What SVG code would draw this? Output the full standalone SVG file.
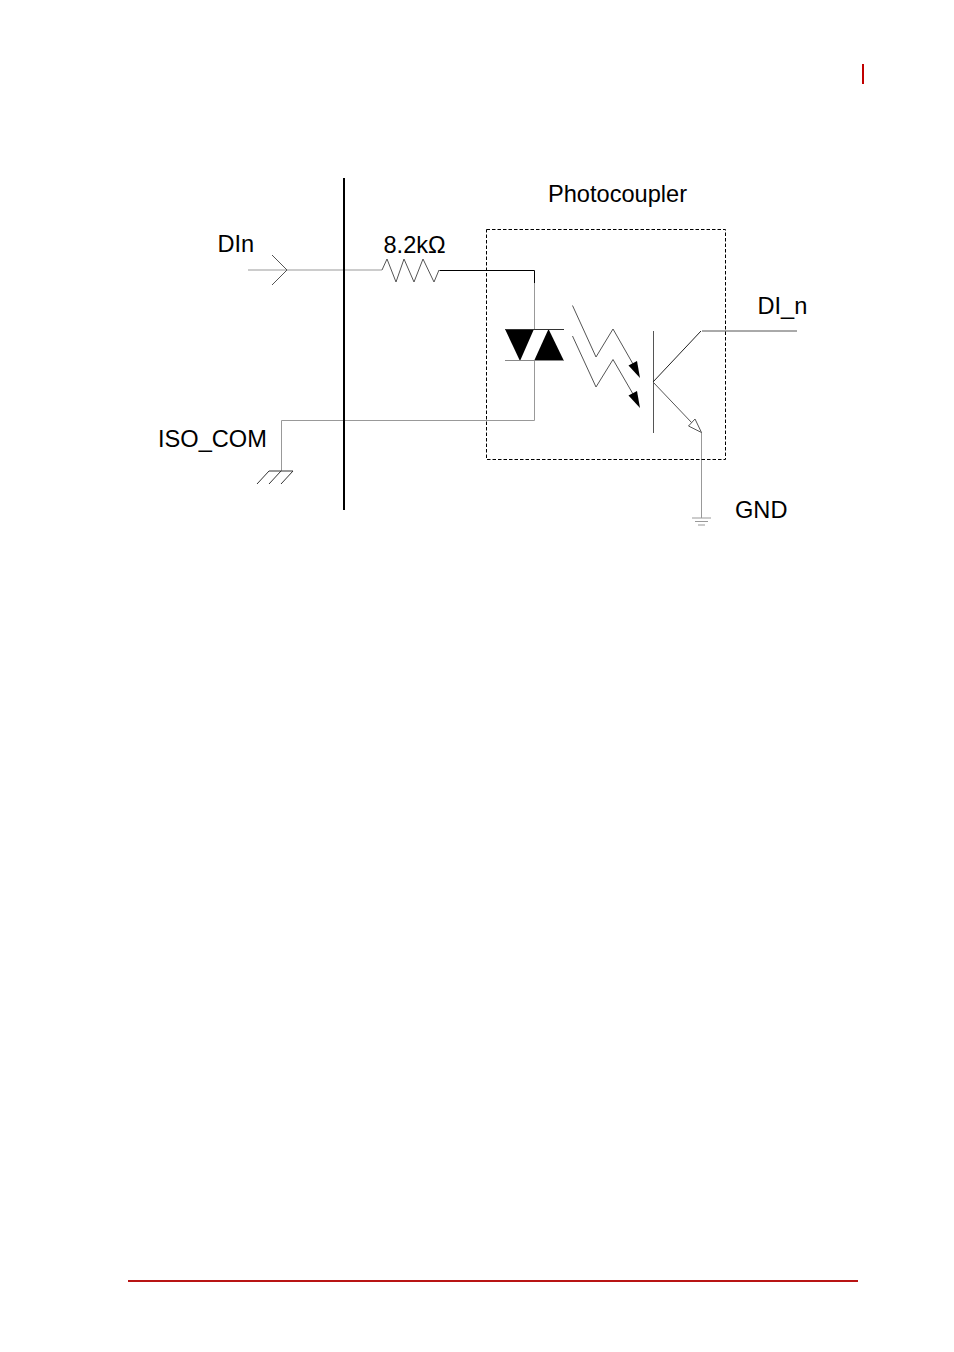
<svg xmlns="http://www.w3.org/2000/svg" width="954" height="1352" viewBox="0 0 954 1352">
<style>
text{font-family:"Liberation Sans",Arial,sans-serif;font-size:23.6px;fill:#000}
.g{fill:none;stroke:#999;stroke-width:1}
.k{fill:none;stroke:#000;stroke-width:1}
.t{fill:none;stroke:#555;stroke-width:1}
.f{fill:#000;stroke:none}
</style>
<rect width="954" height="1352" fill="#fff"/>
<g id="page-marks">
<rect x="862" y="64" width="2" height="20" fill="#c00000"/>
<rect x="128" y="1280" width="730" height="2" fill="#b81414"/>
</g>
<g id="connectors">
<path class="g" d="M248 270H382"/>
<path class="t" d="M272 255L287 270L272 285"/>
<path class="t" d="M382 270L387 259L396 282L404 259L414 282L423 259L434 282L439 270"/>
<path class="k" d="M439.500 270.500H534.500V283"/>
<path class="g" d="M534.500 283V330"/>
<path class="g" d="M534.500 360V420.500H281.500V471"/>
<path class="t" d="M702 331H797"/>
<path class="g" d="M701.500 432V518"/>
</g>
<g id="backplane"><path d="M344 178V510" stroke="#000" stroke-width="2" fill="none"/></g>
<g id="photocoupler-box"><rect x="486.500" y="229.500" width="239" height="230" fill="none" stroke="#000" stroke-width="1" stroke-dasharray="3.500 2"/></g>
<g id="diodes">
<path class="f" d="M505 329H534L520 361Z"/>
<path class="f" d="M534 361L548.500 329L564 361Z"/>
<path d="M505 329.500H564" stroke="#333" stroke-width="1" fill="none"/>
<path d="M505 360.500H564" stroke="#888" stroke-width="1" fill="none"/>
</g>
<g id="light-arrows">
<path class="t" d="M572.500 305.500L596 357L613 329L633 364"/>
<path class="t" d="M572.500 336L596 387L613 359.500L633 394"/>
<path class="f" d="M640 378L628.500 365.500L637 361Z"/>
<path class="f" d="M640 408L628.500 395.500L637 391Z"/>
</g>
<g id="phototransistor">
<path class="t" d="M653.500 331V433"/>
<path d="M653 382L701 331" stroke="#222" stroke-width="1" fill="none"/>
<path class="t" d="M653 382L692 423"/>
<path d="M701.500 432.500L688.500 426L695 419Z" fill="#fff" stroke="#555" stroke-width="1"/>
</g>
<g id="ground-iso">
<path d="M269 471H293" stroke="#333" stroke-width="1" fill="none"/>
<path d="M269 471L257 484M281 471L269 484M293 471L281 484" stroke="#333" stroke-width="1" fill="none"/>
</g>
<g id="ground-gnd">
<path class="g" d="M692 518H711M695 521.500H708M698 525H705"/>
</g>
<g id="labels">
<text x="548" y="202">Photocoupler</text>
<text x="217.500" y="252">DIn</text>
<text x="383.500" y="253">8.2kΩ</text>
<text x="757.500" y="314">DI_n</text>
<text x="158" y="447">ISO_COM</text>
<text x="735" y="518">GND</text>
</g>
</svg>
